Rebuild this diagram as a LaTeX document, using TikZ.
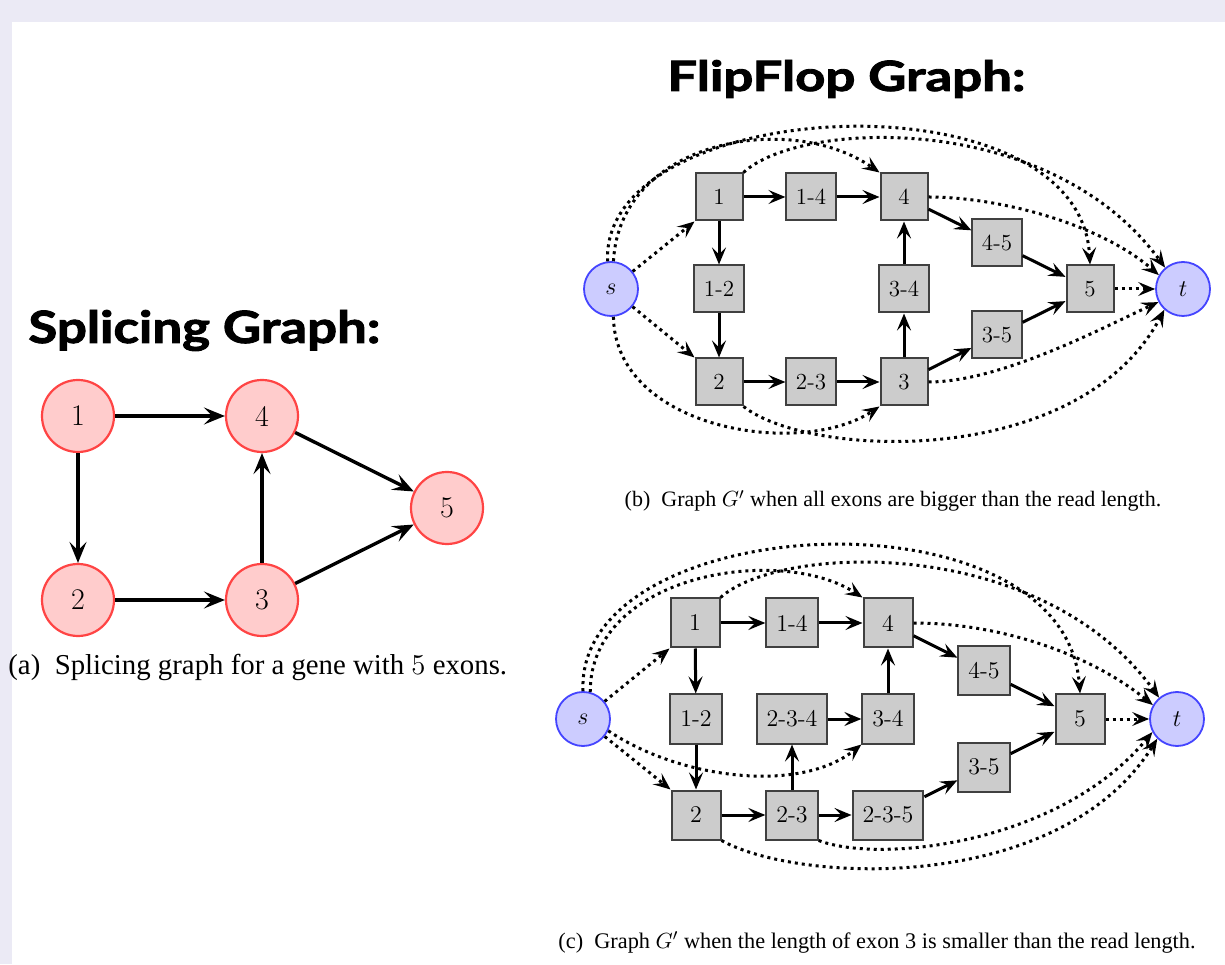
\documentclass[tikz,border=0pt]{standalone}
\usepackage{fontspec}
\usepackage{graphicx}
\usetikzlibrary{arrows.meta}
\newfontfamily\capfont{Liberation Serif}
\newfontfamily\titlefont{Lato}[BoldFeatures={FakeBold=2}]
\definecolor{fondo}{HTML}{EBEAF5}
\definecolor{exonfill}{HTML}{FFCCCC}
\definecolor{exondraw}{HTML}{FF4444}
\definecolor{stfill}{HTML}{CCCCFF}
\definecolor{stdraw}{HTML}{4444FF}
\definecolor{segfill}{HTML}{CCCCCC}
\definecolor{segdraw}{HTML}{404040}

\begin{document}
\begin{tikzpicture}[x=0.5pt, y=0.5pt,
  >={Stealth[length=8.5pt, width=7pt, inset=3.4pt]},
  exon/.style={circle, draw=exondraw, fill=exonfill, line width=1.1pt,
    minimum size=36pt, inner sep=0pt, font=\fontsize{15}{18}\selectfont},
  stnode/.style={circle, draw=stdraw, fill=stfill, line width=0.9pt,
    minimum size=27pt, inner sep=0pt, font=\fontsize{12}{14}\selectfont},
  segb/.style={rectangle, draw=segdraw, fill=segfill, line width=1pt,
    minimum size=23.5pt, inner xsep=4.8pt, font=\fontsize{11.5}{13}\selectfont},
  segc/.style={segb, minimum size=24.5pt, inner xsep=5pt,
    font=\fontsize{12}{14}\selectfont},
  solidarc/.style={->, line width=1.5pt},
  dotarc/.style={->, dotted, line width=1.5pt}]

  % Fondo
  \useasboundingbox (0,0) rectangle (1225,964);
  \fill[fondo] (0,0) rectangle (1225,964);
  \fill[white] (12,0) rectangle (1225,942);

  % Titulos
  \node[anchor=base west, inner sep=0pt] (titA) at (28,621)
    {\resizebox{176pt}{16.5pt}{\titlefont\bfseries Splicing Graph:}};
  \node[anchor=base west, inner sep=0pt] (titB) at (667,873)
    {\resizebox{179pt}{15.5pt}{\titlefont\bfseries FlipFlop Graph:}};

  % (a) Grafo de splicing
  \node[exon] (a1) at (78,548) {1};
  \node[exon] (a4) at (262,548) {4};
  \node[exon] (a2) at (78,364) {2};
  \node[exon] (a3) at (262,364) {3};
  \node[exon] (a5) at (447,456) {5};
  \foreach \i/\j in {a1/a4, a1/a2, a2/a3, a3/a4, a4/a5, a3/a5}
    \draw[solidarc, line width=1.7pt, >={Stealth[length=10.5pt, width=8.5pt, inset=4.2pt]}] (\i) -- (\j);
  \node[anchor=base west, inner sep=0pt] (capA) at (8,289)
    {\capfont\fontsize{14.4}{17}\selectfont (a)~~Splicing graph for a gene with $5$ exons.};

  % (b) Grafo G'
  \node[stnode] (sb) at (611,675) {$s$};
  \node[stnode] (tb) at (1183,675) {$t$};
  \node[segb] (b1) at (719,767) {1};
  \node[segb] (b14) at (811,767) {1-4};
  \node[segb] (b4) at (904,767) {4};
  \node[segb] (b12) at (719,675) {1-2};
  \node[segb] (b34) at (904,675) {3-4};
  \node[segb] (b2) at (719,582) {2};
  \node[segb] (b23) at (811,582) {2-3};
  \node[segb] (b3) at (904,582) {3};
  \node[segb] (b45) at (997,721) {4-5};
  \node[segb] (b35) at (997,629) {3-5};
  \node[segb] (b5) at (1090,675) {5};

  \foreach \i/\j in {b1/b14, b14/b4, b1/b12, b12/b2, b2/b23, b23/b3,
                     b3/b34, b34/b4, b4/b45, b45/b5, b3/b35, b35/b5}
    \draw[solidarc] (\i) -- (\j);

  % Aristas punteadas (b)
  \draw[dotarc] (sb) -- (b1.south west);
  \draw[dotarc] (sb) -- (b2.north west);
  \draw[dotarc] (sb.85) .. controls (620,824) and (790,854) .. (b4.north west);
  \draw[dotarc] (sb.97) .. controls (600,869) and (1080,894) .. (b5.north);
  \draw[dotarc] (sb.275) .. controls (615,535) and (800,505) .. (b3.south west);
  \draw[dotarc] (b1.north east) .. controls (800,844) and (1050,854) .. (tb.130);
  \draw[dotarc] (b4.east) .. controls (1000,767) and (1100,740) .. (tb.150);
  \draw[dotarc] (b5) -- (tb);
  \draw[dotarc] (b3.east) .. controls (1000,582) and (1100,635) .. (tb.208);
  \draw[dotarc] (b2.south east) .. controls (810,505) and (1080,495) .. (tb.228);

  \node[anchor=base, inner sep=0pt] (capB) at (893,457)
    {\capfont\fontsize{11}{13}\selectfont (b)~~Graph $G'$ when all exons are bigger than the read length.};

  % (c) Grafo G' con exon 3 corto
  \node[stnode] (sc) at (583,245) {$s$};
  \node[stnode] (tc) at (1177,245) {$t$};
  \node[segc] (c1) at (695,341) {1};
  \node[segc] (c14) at (792,341) {1-4};
  \node[segc] (c4) at (888,341) {4};
  \node[segc] (c12) at (696,245) {1-2};
  \node[segc] (c234) at (792,245) {2-3-4};
  \node[segc] (c34) at (888,245) {3-4};
  \node[segc] (c2) at (696,149) {2};
  \node[segc] (c23) at (792,149) {2-3};
  \node[segc] (c235) at (888,149) {2-3-5};
  \node[segc] (c45) at (984,293) {4-5};
  \node[segc] (c35) at (984,197) {3-5};
  \node[segc] (c5) at (1080,245) {5};

  \foreach \i/\j in {c1/c14, c14/c4, c1/c12, c12/c2, c2/c23, c23/c234,
                     c234/c34, c34/c4, c23/c235, c235/c35, c35/c5, c4/c45, c45/c5}
    \draw[solidarc] (\i) -- (\j);

  % Aristas punteadas (c)
  \draw[dotarc] (sc) -- (c1.south west);
  \draw[dotarc] (sc) -- (c2.north west);
  \draw[dotarc] (sc.335) .. controls (680,185) and (800,170) .. (c34.south west);
  \draw[dotarc] (sc.75) .. controls (590,390) and (780,420) .. (c4.north west);
  \draw[dotarc] (sc.90) .. controls (575,455) and (1065,480) .. (c5.north);
  \draw[dotarc] (c1.north east) .. controls (780,420) and (1040,430) .. (tc.130);
  \draw[dotarc] (c4.east) .. controls (1000,341) and (1090,310) .. (tc.150);
  \draw[dotarc] (c5) -- (tc);
  \draw[dotarc] (c23.south east) .. controls (880,100) and (1060,120) .. (tc.208);
  \draw[dotarc] (c2.south east) .. controls (800,80) and (1060,70) .. (tc.225);

  \node[anchor=base, inner sep=0pt] (capC) at (877,16)
    {\capfont\fontsize{11.15}{13}\selectfont (c)~~Graph $G'$ when the length of exon 3 is smaller than the read length.};
\end{tikzpicture}
\end{document}
